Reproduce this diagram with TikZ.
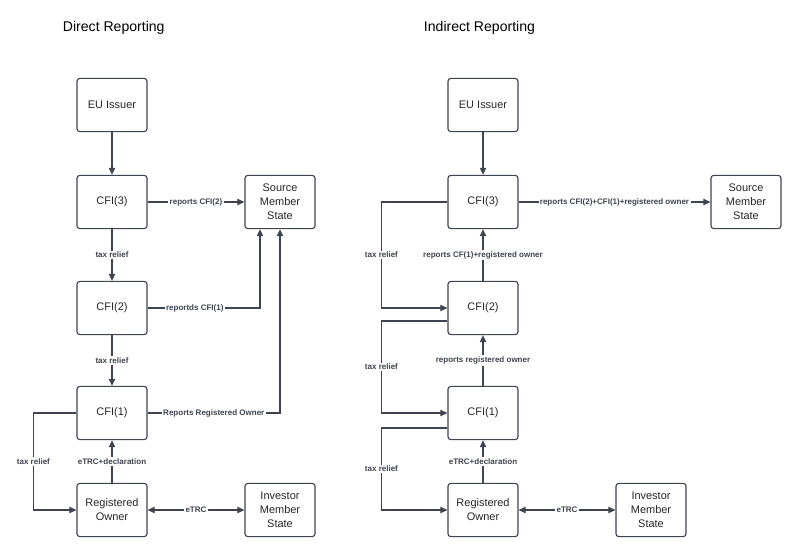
\documentclass[tikz,border=0pt]{standalone}
\usepackage{fontspec}
\setmainfont{Liberation Sans}
\usetikzlibrary{arrows.meta}
\definecolor{wiregray}{HTML}{3F4451}
\begin{document}
\begin{tikzpicture}[x=0.025cm, y=-0.025cm,
	entity/.style={shape=rectangle, draw=wiregray, line width=0.8pt, rounded corners=2pt, minimum width=1.75cm, minimum height=1.33cm, align=center, text=black!85, font=\fontsize{7.8}{10}\selectfont},
	flow/.style={draw=wiregray, line width=0.8pt, -{Triangle[length=5pt, width=4.5pt]}},
	tag/.style={fill=white, inner sep=1pt, text=wiregray, font=\bfseries\fontsize{5.7}{6.5}\selectfont},
	heading/.style={anchor=west, font=\fontsize{10}{12}\selectfont}]
	\useasboundingbox (0,0) rectangle (800,554);
	% Titles:
	\node[heading] (titleD) at (58,28) {Direct Reporting};
	\node[heading] (titleI) at (419,28) {Indirect Reporting};
	% Direct reporting:
	\node[entity] (issuerD) at (112,105) {EU Issuer};
	\node[entity] (cfi3D) at (112,202) {CFI(3)};
	\node[entity] (sourceD) at (280,202) {Source\\Member\\State};
	\node[entity] (cfi2D) at (112,308) {CFI(2)};
	\node[entity] (cfi1D) at (112,413) {CFI(1)};
	\node[entity] (ownerD) at (112,510) {Registered\\Owner};
	\node[entity] (investorD) at (280,510) {Investor\\Member\\State};
	\draw[flow] (issuerD) -- (cfi3D);
	\draw[flow] (cfi3D) -- node[tag]{reports CFI(2)} (sourceD);
	\draw[flow] (cfi3D) -- node[tag]{tax relief} (cfi2D);
	\draw[flow] (cfi2D) -- node[tag]{tax relief} (cfi1D);
	\draw[flow] (cfi2D.east) -| node[tag, pos=0.21]{reportds CFI(1)} ([xshift=-0.5cm]sourceD.south);
	\draw[flow] (cfi1D.east) -| node[tag, pos=0.25]{Reports Registered Owner} (sourceD.south);
	\draw[flow] (cfi1D.west) -- ++(-43,0) |- node[tag, pos=0.25]{tax relief} (ownerD.west);
	\draw[flow] (ownerD) -- node[tag]{eTRC+declaration} (cfi1D);
	\draw[flow, {Triangle[length=5pt, width=4.5pt]}-{Triangle[length=5pt, width=4.5pt]}] (ownerD) -- node[tag]{eTRC} (investorD);
	% Indirect reporting:
	\node[entity] (issuerI) at (483,105) {EU Issuer};
	\node[entity] (cfi3I) at (483,202) {CFI(3)};
	\node[entity] (sourceI) at (746,202) {Source\\Member\\State};
	\node[entity] (cfi2I) at (483,308) {CFI(2)};
	\node[entity] (cfi1I) at (483,413) {CFI(1)};
	\node[entity] (ownerI) at (483,510) {Registered\\Owner};
	\node[entity] (investorI) at (651,510) {Investor\\Member\\State};
	\draw[flow] (issuerI) -- (cfi3I);
	\draw[flow] (cfi3I) -- node[tag]{reports CFI(2)+CFI(1)+registered owner} (sourceI);
	\draw[flow] (cfi2I) -- node[tag]{reports CF(1)+registered owner} (cfi3I);
	\draw[flow] (cfi1I) -- node[tag]{reports registered owner} (cfi2I);
	\draw[flow] (ownerI) -- node[tag]{eTRC+declaration} (cfi1I);
	\draw[flow] (cfi3I.west) -- ++(-66,0) |- node[tag, pos=0.25]{tax relief} (cfi2I.west);
	\draw[flow] ([yshift=-0.325cm]cfi2I.west) -- ++(-66,0) |- node[tag, pos=0.25]{tax relief} (cfi1I.west);
	\draw[flow] ([yshift=-0.375cm]cfi1I.west) -- ++(-66,0) |- node[tag, pos=0.25]{tax relief} (ownerI.west);
	\draw[flow, {Triangle[length=5pt, width=4.5pt]}-{Triangle[length=5pt, width=4.5pt]}] (ownerI) -- node[tag]{eTRC} (investorI);
\end{tikzpicture}
\end{document}
